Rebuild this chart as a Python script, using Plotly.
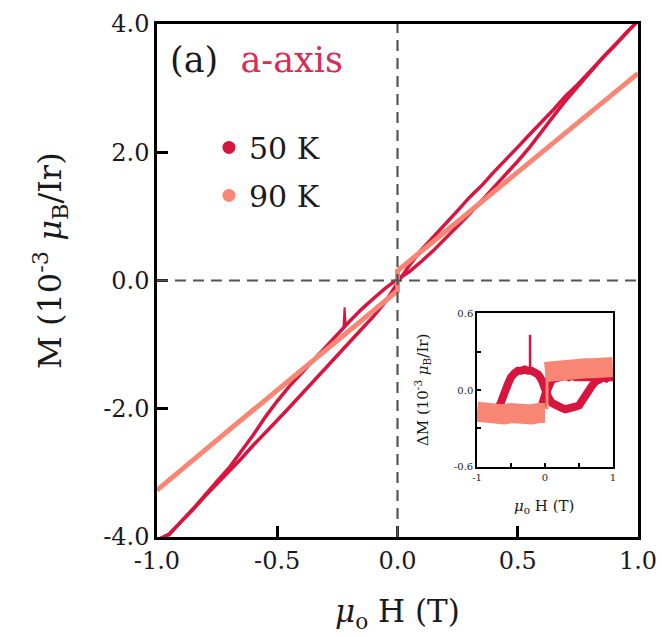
import plotly.graph_objects as go

# ---------------- data ----------------
# main panel: M (1e-3 muB/Ir) vs mu0 H (T), 50 K sweep down (+1 -> -1)
H_50_down = [1.0, 0.95, 0.9, 0.85, 0.8, 0.75, 0.7, 0.65, 0.6, 0.55, 0.5, 0.45, 0.4, 0.35, 0.3, 0.25,
             0.2, 0.15, 0.1, 0.05, 0.0, -0.05, -0.1, -0.15, -0.2, -0.25, -0.3, -0.35, -0.4, -0.45,
             -0.5, -0.55, -0.6, -0.65, -0.7, -0.75, -0.8, -0.85, -0.9, -0.95, -1.0]
M_50_down = [4.05, 3.86, 3.65, 3.46, 3.24, 3.03, 2.81, 2.57, 2.32, 2.08, 1.86, 1.65, 1.44, 1.24, 1.04, 0.85,
             0.66, 0.47, 0.30, 0.14, 0.02, -0.12, -0.28, -0.45, -0.64, -0.84, -1.03, -1.23, -1.43, -1.65,
             -1.88, -2.13, -2.41, -2.67, -2.92, -3.13, -3.35, -3.56, -3.76, -3.96, -4.05]
# 50 K sweep up (-1 -> +1)
H_50_up = [-1.0, -0.95, -0.9, -0.85, -0.8, -0.75, -0.7, -0.65, -0.6, -0.55, -0.5, -0.45, -0.4, -0.35,
           -0.3, -0.25, -0.2, -0.15, -0.1, -0.05, 0.0, 0.05, 0.1, 0.15, 0.2, 0.25, 0.3, 0.35, 0.4,
           0.45, 0.5, 0.55, 0.6, 0.65, 0.7, 0.75, 0.8, 0.85, 0.9, 0.95, 1.0]
M_50_up = [-4.05, -3.96, -3.76, -3.57, -3.36, -3.17, -2.97, -2.78, -2.57, -2.38, -2.18, -1.98, -1.78, -1.57,
           -1.38, -1.17, -0.97, -0.76, -0.56, -0.33, -0.04, 0.24, 0.48, 0.68, 0.89, 1.09, 1.30, 1.48, 1.69,
           1.88, 2.08, 2.28, 2.47, 2.67, 2.88, 3.06, 3.26, 3.47, 3.66, 3.85, 4.05]
# 50 K glitch near -0.22 T
H_50_spike = [-0.215, -0.22, -0.225]
M_50_spike = [-0.72, -0.42, -0.74]
# 90 K
H_90 = [-1.0, -0.9, -0.8, -0.7, -0.6, -0.5, -0.4, -0.3, -0.2, -0.1, 0.0, 0.0,
        0.1, 0.2, 0.3, 0.4, 0.5, 0.6, 0.7, 0.8, 0.9, 1.0]
M_90 = [-3.27, -2.95, -2.64, -2.33, -2.02, -1.71, -1.40, -1.09, -0.78, -0.47, -0.16, 0.15,
        0.46, 0.77, 1.08, 1.39, 1.70, 2.01, 2.32, 2.63, 2.94, 3.23]

# inset: Delta M vs mu0 H
dM_50_down = [0.10, 0.11, 0.09, 0.10, 0.08, 0.07, 0.04, 0.00, -0.05, -0.09, -0.12, -0.13, -0.14, -0.14, -0.15, -0.14,
              -0.13, -0.12, -0.10, -0.06, 0.02, 0.08, 0.12, 0.14, 0.15, 0.15, 0.16, 0.15, 0.15, 0.13,
              0.10, 0.04, -0.04, -0.10, -0.15, -0.17, -0.19, -0.20, -0.20, -0.21, -0.20]
dM_50_up = [-0.20, -0.21, -0.20, -0.21, -0.20, -0.21, -0.20, -0.21, -0.20, -0.21, -0.20, -0.20, -0.20, -0.19,
            -0.19, -0.18, -0.18, -0.17, -0.16, -0.13, -0.04, 0.04, 0.08, 0.09, 0.10, 0.10, 0.11, 0.10, 0.11,
            0.10, 0.10, 0.11, 0.10, 0.10, 0.11, 0.10, 0.10, 0.11, 0.10, 0.10, 0.10]
Hi_50_spike = [-0.22, -0.22]
dM_50_spike = [0.15, 0.43]
Hi_90 = [-1.0, -0.9, -0.8, -0.7, -0.6, -0.5, -0.4, -0.3, -0.2, -0.1, 0.0, None,
         0.0, 0.1, 0.2, 0.3, 0.4, 0.5, 0.6, 0.7, 0.8, 0.9, 1.0]
dM_90 = [-0.17, -0.18, -0.17, -0.18, -0.19, -0.18, -0.19, -0.18, -0.19, -0.18, -0.18, None,
         0.14, 0.15, 0.15, 0.16, 0.16, 0.16, 0.17, 0.17, 0.18, 0.18, 0.18]
Hi_90_jump = [0.03, 0.03]
dM_90_jump = [-0.15, 0.12]

series_names = ["50 K", "90 K"]

x_tickvals = [-1.0, -0.5, 0.0, 0.5, 1.0]
x_ticktext = ["-1.0", "-0.5", "0.0", "0.5", "1.0"]
y_tickvals = [-4.0, -2.0, 0.0, 2.0, 4.0]
y_ticktext = ["-4.0", "-2.0", "0.0", "2.0", "4.0"]
xi_tickvals = [-1.0, -0.5, 0.0, 0.5, 1.0]
xi_ticktext = ["-1", "", "0", "", "1"]
yi_tickvals = [-0.6, -0.3, 0.0, 0.3, 0.6]
yi_ticktext = ["-0.6", "", "0.0", "", "0.6"]

# ---------------- style ----------------
RED = "#D7153F"
SALMON = "#F98674"
LABEL_RED = "#DA2A55"
FONT = "DejaVu Serif"
TXT = "#1a1a1a"

fig = go.Figure()

def line(x, y, color, width, ax):
    xa, ya = ("x", "y") if ax == 1 else ("x2", "y2")
    return go.Scatter(x=x, y=y, mode="lines", line=dict(color=color, width=width),
                      showlegend=False, xaxis=xa, yaxis=ya, hoverinfo="skip")

# main panel
fig.add_trace(line(H_50_up, M_50_up, RED, 3.5, 1))
fig.add_trace(line(H_50_down, M_50_down, RED, 3.5, 1))
fig.add_trace(line(H_50_spike, M_50_spike, RED, 2, 1))
fig.add_trace(line(H_90, M_90, SALMON, 5, 1))

# inset
fig.add_trace(line(H_50_up, dM_50_up, RED, 8, 2))
fig.add_trace(line(H_50_down, dM_50_down, RED, 8, 2))
fig.add_trace(line(Hi_50_spike, dM_50_spike, RED, 2.5, 2))
fig.add_trace(line(Hi_90, dM_90, SALMON, 20, 2))
fig.add_trace(line(Hi_90_jump, dM_90_jump, SALMON, 3, 2))

# legend entries
for name, col, grp in zip(series_names, [RED, SALMON], ["g1", "g2"]):
    fig.add_trace(go.Scatter(x=[None], y=[None], mode="markers", name=name, legendgroup=grp,
                             marker=dict(color=col, size=13), xaxis="x", yaxis="y"))

axis_main = dict(showline=True, mirror=True, linecolor="black", linewidth=2.5,
                 ticks="inside", ticklen=11, tickwidth=2.5, tickcolor="black",
                 showgrid=False, zeroline=False,
                 tickfont=dict(family=FONT, size=24, color=TXT))
axis_inset = dict(showline=True, mirror=True, linecolor="black", linewidth=1.5,
                  ticks="inside", ticklen=4, tickwidth=1.5, tickcolor="black",
                  showgrid=False, zeroline=False,
                  tickfont=dict(family=FONT, size=10, color=TXT))

fig.update_layout(
    width=662, height=637,
    margin=dict(l=157, r=24, t=24, b=100, autoexpand=False),
    paper_bgcolor="white", plot_bgcolor="white",
    xaxis=dict(domain=[0, 1], range=[-1, 1], tickvals=x_tickvals, ticktext=x_ticktext, anchor="y", **axis_main),
    yaxis=dict(domain=[0, 1], range=[-4, 4], tickvals=y_tickvals, ticktext=y_ticktext, anchor="x", **axis_main),
    xaxis2=dict(domain=[0.6653, 0.948], range=[-1, 1], tickvals=xi_tickvals, ticktext=xi_ticktext,
                anchor="y2", **axis_inset),
    yaxis2=dict(domain=[0.1365, 0.4366], range=[-0.6, 0.6], tickvals=yi_tickvals, ticktext=yi_ticktext,
                anchor="x2", **axis_inset),
    legend=dict(x=0.108, y=0.810, xanchor="left", yanchor="top", bgcolor="rgba(0,0,0,0)",
                font=dict(family=FONT, size=30, color=TXT), tracegroupgap=6, itemwidth=30),
    shapes=[
        dict(type="line", xref="x", yref="y", x0=0, x1=0, y0=-4, y1=4,
             line=dict(color="#555555", width=2.2, dash="11px,7px"), layer="above"),
        dict(type="line", xref="x", yref="y", x0=-1, x1=1, y0=0, y1=0,
             line=dict(color="#555555", width=2.2, dash="11px,7px"), layer="above"),
    ],
    annotations=[
        dict(xref="paper", yref="paper", x=0.0229, y=0.93, xanchor="left", yanchor="middle",
             text="(a)  <span style='color:%s'>a-axis</span>" % LABEL_RED, showarrow=False,
             font=dict(family=FONT, size=35, color=TXT)),
        dict(xref="paper", yref="paper", x=-0.2225, y=0.54, xanchor="center", yanchor="middle",
             text="M (10<sup>-3</sup> <i>μ</i><sub>B</sub>/Ir)", textangle=-90, showarrow=False,
             font=dict(family=FONT, size=32, color=TXT)),
        dict(xref="paper", yref="paper", x=0.5, y=-0.150, xanchor="center", yanchor="middle",
             text="<i>μ</i><sub>o</sub> H (T)", showarrow=False,
             font=dict(family=FONT, size=31, color=TXT)),
        dict(xref="paper", yref="paper", x=0.551, y=0.2865, xanchor="center", yanchor="middle",
             text="ΔM (10<sup>-3</sup> <i>μ</i><sub>B</sub>/Ir)", textangle=-90, showarrow=False,
             font=dict(family=FONT, size=15, color=TXT)),
        dict(xref="paper", yref="paper", x=0.8046, y=0.0604, xanchor="center", yanchor="middle",
             text="<i>μ</i><sub>o</sub> H (T)", showarrow=False,
             font=dict(family=FONT, size=15, color=TXT)),
    ],
)

fig.write_html("out.html")
